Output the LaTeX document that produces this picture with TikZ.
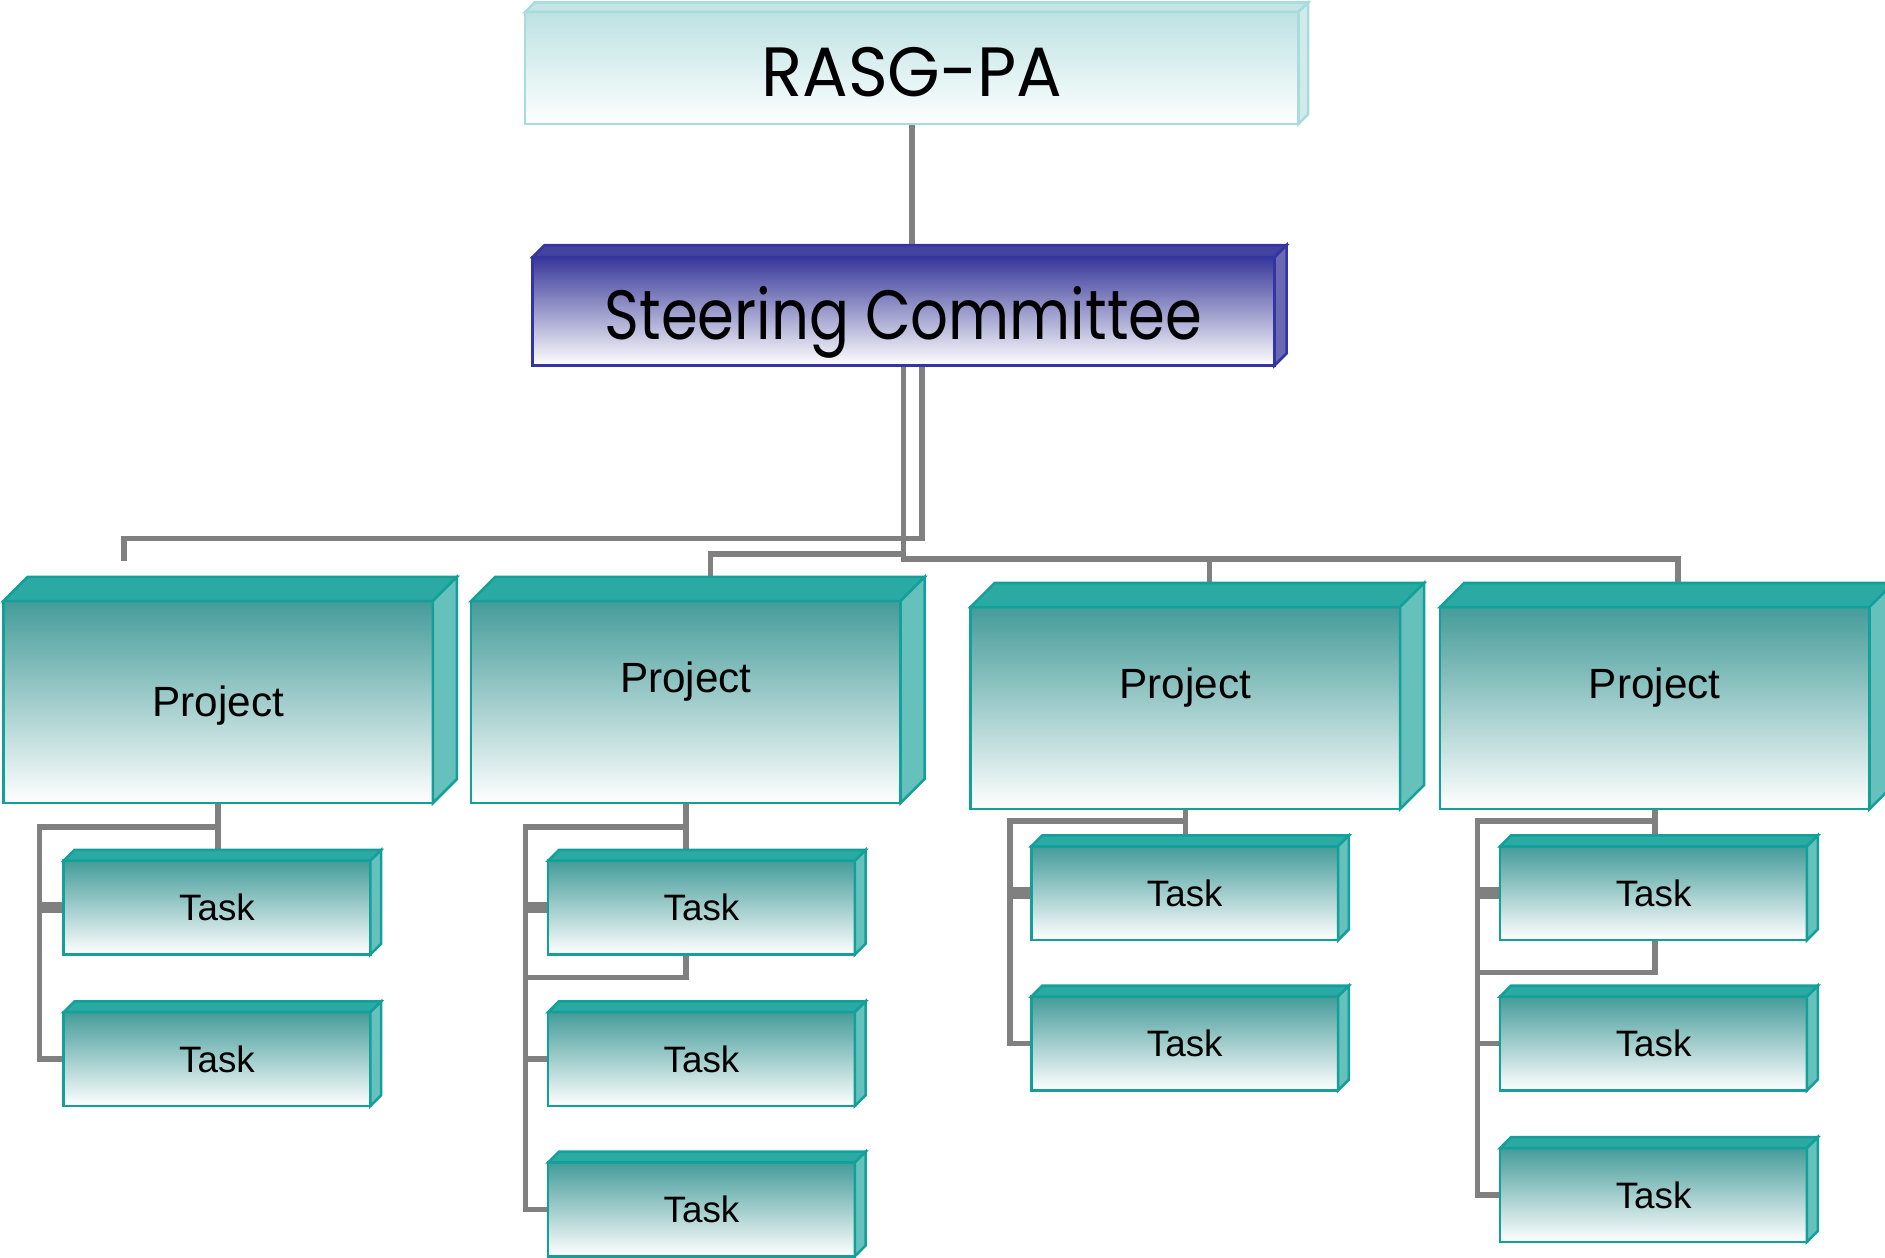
\documentclass[tikz,border=0pt]{standalone}
\usepackage{fontspec}
\setmainfont{Liberation Sans}
\newfontfamily\gothicwide[FakeStretch=0.97]{Poppins}
\newfontfamily\gothicnarrow[FakeStretch=0.85]{Poppins}
\usepackage{xcolor}
\usepackage{tikz}
\usetikzlibrary{calc,backgrounds}

\definecolor{linkgray}{HTML}{808080}
\definecolor{palefront}{HTML}{BDE2E3}
\definecolor{paleedge}{HTML}{A8DBDC}
\definecolor{navyfront}{HTML}{38389A}
\definecolor{navyedge}{HTML}{3434A6}
\definecolor{tealfront}{HTML}{449C9A}
\definecolor{tealedge}{HTML}{13A09A}

\begin{document}
\begin{tikzpicture}[x=0.01cm,y=-0.01cm,
	link/.style={draw=linkgray, line width=1.3pt},
	stub/.style={draw=linkgray, line width=2.7pt},
	front/.style={line width=0.6pt, outer sep=0pt, inner sep=0pt},
	title/.style={text height=0.61cm, text depth=0.14cm},
	palebox/.style={front, title, draw=paleedge, top color=palefront, bottom color=white!98!palefront, minimum width=6.43cm, minimum height=0.93cm, font=\gothicwide\fontsize{16.5}{20}\selectfont},
	navybox/.style={front, title, draw=navyedge, top color=navyfront, bottom color=white, minimum width=6.17cm, minimum height=0.9cm, font=\gothicnarrow\fontsize{16.5}{20}\selectfont},
	tealbox/.style={front, draw=tealedge, top color=tealfront, bottom color=white},
	prj/.style={tealbox, minimum width=3.57cm, minimum height=1.68cm, font=\fontsize{10}{12}\selectfont},
	task/.style={tealbox, minimum width=2.55cm, minimum height=0.78cm, font=\fontsize{8.7}{10}\selectfont},
	raised/.style={text depth=0.42cm},
	paletop/.style={fill=palefront!90!white, draw=paleedge, line width=0.6pt},
	paleside/.style={fill=palefront!70!white, draw=paleedge, line width=0.6pt},
	navytop/.style={fill=navyfront!95!white, draw=navyedge, line width=0.6pt},
	navyside/.style={fill=navyfront!75!white, draw=navyedge, line width=0.6pt},
	tealtop/.style={fill=tealedge!90!white, draw=tealedge, line width=0.6pt},
	tealside/.style={fill=tealedge!65!white, draw=tealedge, line width=0.6pt}]
	\useasboundingbox (0,0) rectangle (1568,1046);

	% top of the chart
	\node[palebox] (rasg) at (758.5,56.5) {RASG-PA};
	\node[navybox] (sc) at (751.5,259) {Steering Committee};

	% projects
	\node[prj,text depth=0.02cm] (p1) at (181.5,584) {Project};
	\node[prj,raised] (p2) at (570.5,584) {Project};
	\node[prj,raised] (p3) at (986,589) {Project};
	\node[prj,raised] (p4) at (1376.5,589) {Project};

	% tasks
	\node[task] (t11) at (180.5,755) {Task};
	\node[task] (t12) at (180.5,881) {Task};
	\node[task] (t21) at (583.5,755) {Task};
	\node[task] (t22) at (583.5,881) {Task};
	\node[task] (t23) at (583.5,1006) {Task};
	\node[task] (t31) at (985.5,743) {Task};
	\node[task] (t32) at (985.5,868) {Task};
	\node[task] (t41) at (1375.5,743) {Task};
	\node[task] (t42) at (1375.5,868) {Task};
	\node[task] (t43) at (1375.5,994) {Task};

	% top and side faces
	\foreach \n/\d/\s in {rasg/8/pale, sc/10/navy, p1/20/teal, p2/20/teal, p3/20/teal, p4/20/teal,
		t11/9/teal, t12/9/teal, t21/9/teal, t22/9/teal, t23/9/teal,
		t31/9/teal, t32/9/teal, t41/9/teal, t42/9/teal, t43/9/teal}{
		\filldraw[\s top] (\n.north west) -- ++(\d,-\d) -- ($(\n.north east)+(\d,-\d)$) -- (\n.north east) -- cycle;
		\filldraw[\s side] (\n.north east) -- ++(\d,-\d) -- ($(\n.south east)+(\d,-\d)$) -- (\n.south east) -- cycle;
	}

	% bends of the connectors
	\coordinate (j1) at (103,448);
	\coordinate (e1) at (103,467);
	\coordinate (j2) at (591,461);
	\coordinate (j3) at (1006,465);
	\coordinate (j4) at (1396,465);
	\coordinate (b1) at (33,688);
	\coordinate (b2) at (437,688);
	\coordinate (b3) at (840,683);
	\coordinate (b4) at (1229,683);
	\coordinate (c2) at (437,813);
	\coordinate (c4) at (1229,809);

	\begin{scope}[on background layer]
		\draw[link] (rasg.south) -- (rasg.south |- sc.north);

		\draw[link] ($(sc.south)+(15.5,0)$) |- (j1) -- (e1);
		\draw[link] (sc.south) |- (j4) -- (j4 |- p4.north);
		\draw[link] (sc.south |- j2) -| (j2 |- p2.north);
		\draw[link] (j3) -- (j3 |- p3.north);

		\draw[link] (p1.south) -- (p1.south |- t11.north);
		\draw[link] (p1.south |- b1) -- (b1) |- (t12.west);
		\draw[stub] (b1 |- t11.west) -- (t11.west);

		\draw[link] (p2.south) -- (p2.south |- t21.north);
		\draw[link] (p2.south |- b2) -- (b2) |- (t23.west);
		\draw[link] (b2 |- t22.west) -- (t22.west);
		\draw[stub] (b2 |- t21.west) -- (t21.west);
		\draw[link] (t21.south -| p2.south) |- (c2);

		\draw[link] (p3.south) -- (p3.south |- t31.north);
		\draw[link] (p3.south |- b3) -- (b3) |- (t32.west);
		\draw[stub] (b3 |- t31.west) -- (t31.west);

		\draw[link] (p4.south) -- (p4.south |- t41.north);
		\draw[link] (p4.south |- b4) -- (b4) |- (t43.west);
		\draw[link] (b4 |- t42.west) -- (t42.west);
		\draw[stub] (b4 |- t41.west) -- (t41.west);
		\draw[link] (t41.south -| p4.south) |- (c4);
	\end{scope}
\end{tikzpicture}
\end{document}
